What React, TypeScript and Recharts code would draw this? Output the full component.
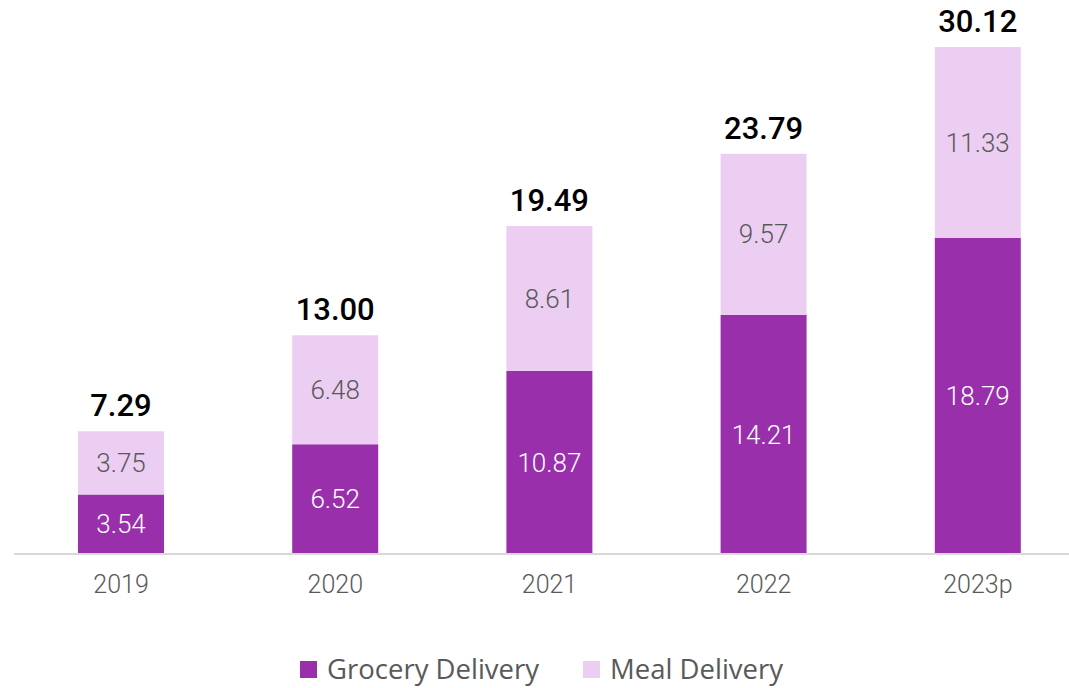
import React from 'react';
import { BarChart, Bar, XAxis, YAxis, Legend, LabelList } from 'recharts';

const YEARS = ['2019', '2020', '2021', '2022', '2023p'];
const GROCERY = [3.54, 6.52, 10.87, 14.21, 18.79];
const MEAL = [3.75, 6.48, 8.61, 9.57, 11.33];
const TOTALS = ['7.29', '13.00', '19.49', '23.79', '30.12'];

const DARK = '#9A2FAC';
const LIGHT = '#ECCEF2';
const NUM_FONT = 'Roboto, sans-serif';

const data = YEARS.map((year, i) => ({
    year,
    grocery: GROCERY[i],
    meal: MEAL[i],
    total: TOTALS[i],
}));

const renderTotal = (props: any) => {
    const { x, y, width, index } = props;
    return (
        <text
            x={Number(x) + Number(width) / 2}
            y={Number(y) - 15}
            textAnchor="middle"
            fontFamily={NUM_FONT}
            fontWeight={500}
            fontSize={31}
            fill="#000"
        >
            {TOTALS[index]}
        </text>
    );
};

const renderLegend = () => {
    const items = [
        { name: 'Grocery Delivery', color: DARK },
        { name: 'Meal Delivery', color: LIGHT },
    ];
    return (
        <div style={{ display: 'flex', alignItems: 'center', fontFamily: '"Open Sans", sans-serif', fontSize: 27.5, lineHeight: '28px', color: '#595959', whiteSpace: 'nowrap' }}>
            {items.map((it, i) => (
                <div key={it.name} style={{ display: 'flex', alignItems: 'center', marginRight: i === 0 ? 44 : 0 }}>
                    <span style={{ width: 17, height: 17, background: it.color, display: 'inline-block', marginRight: 10 }} />
                    <span>{it.name}</span>
                </div>
            ))}
        </div>
    );
};

export default function App() {
    return (
        <div style={{ position: 'absolute', left: 0, top: 0, width: 1069, height: 688, overflow: 'hidden', background: '#fff' }}>
            <BarChart width={1085} height={688} data={data} margin={{ top: 47, right: 0, left: 14, bottom: 84 }} barSize={86}>
                <XAxis
                    dataKey="year"
                    axisLine={{ stroke: '#D9D9D9', strokeWidth: 2 }}
                    tickLine={false}
                    tickSize={0}
                    tickMargin={21}
                    height={50}
                    tick={{ fill: '#595959', fontSize: 25, fontFamily: NUM_FONT, fontWeight: 300 }}
                />
                <YAxis hide domain={[0, 30.12]} />
                <Legend
                    layout="horizontal"
                    verticalAlign="middle"
                    align="center"
                    wrapperStyle={{ top: 655, left: 300, width: 'auto' }}
                    content={renderLegend}
                />
                <Bar dataKey="grocery" stackId="a" fill={DARK} isAnimationActive={false}>
                    <LabelList dataKey="grocery" position="center" fill="#fff" fontSize={26} fontWeight={300} fontFamily={NUM_FONT} formatter={(v: any) => Number(v).toFixed(2)} />
                </Bar>
                <Bar dataKey="meal" stackId="a" fill={LIGHT} isAnimationActive={false}>
                    <LabelList dataKey="meal" position="center" fill="#595959" fontSize={26} fontWeight={300} fontFamily={NUM_FONT} formatter={(v: any) => Number(v).toFixed(2)} />
                    <LabelList dataKey="total" content={renderTotal} />
                </Bar>
            </BarChart>
        </div>
    );
}
